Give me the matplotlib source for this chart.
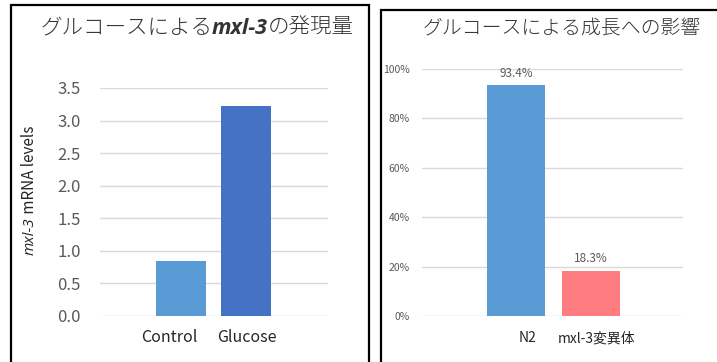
import matplotlib
matplotlib.use('Agg')
import matplotlib.pyplot as plt
from matplotlib.patches import Rectangle
from matplotlib.ticker import PercentFormatter
from matplotlib.transforms import ScaledTranslation

plt.rcParams['font.family'] = ['Noto Sans CJK JP', 'DejaVu Sans']

# expression data
expr_groups = ["Control", "Glucose"]
expr_levels = [0.85, 3.22]
expr_colors = ["#5B9BD5", "#4472C4"]
expr_ticks = [0.0, 0.5, 1.0, 1.5, 2.0, 2.5, 3.0, 3.5]

# growth data
growth_groups = ["N2", "mxl-3変異体"]
growth_rates = [0.934, 0.183]
growth_colors = ["#5B9BD5", "#FF7C80"]
growth_ticks = [0.0, 0.2, 0.4, 0.6, 0.8, 1.0]

W, H = 717, 362
fig = plt.figure(figsize=(W / 100, H / 100), dpi=100)
fig.patch.set_facecolor("white")


def px(x, y):
    return x / W, (H - y) / H


def style_axes(ax, ticks, pad):
    for s in ax.spines.values():
        s.set_visible(False)
    ax.set_yticks(ticks)
    ax.yaxis.grid(True, color="#D9D9D9", linewidth=1)
    ax.set_axisbelow(True)
    ax.tick_params(axis="both", length=0)
    ax.tick_params(axis="y", pad=pad, colors="#595959")


def nudge(labels, shifts):
    # shift category labels sideways by a few pixels
    for lab, dx in zip(labels, shifts):
        lab.set_transform(lab.get_transform() + ScaledTranslation(dx / 100, 0, fig.dpi_scale_trans))


# panel frames
fig.add_artist(Rectangle(px(11, 370), 358 / W, 365 / H, transform=fig.transFigure,
                         fill=False, edgecolor="black", linewidth=1.6, clip_on=False))
fig.add_artist(Rectangle(px(381, 370), 345 / W, 360 / H, transform=fig.transFigure,
                         fill=False, edgecolor="black", linewidth=1.6, clip_on=False))

# left: mxl-3 expression
ax1 = fig.add_axes([100 / W, (H - 316) / H, 228 / W, 228 / H])
ax1.bar(range(len(expr_groups)), expr_levels, width=0.78, color=expr_colors)
ax1.set_xlim(-1.246, 2.26)
ax1.set_ylim(0, 3.5)
style_axes(ax1, expr_ticks, 14)
ax1.set_yticklabels([f"{t:.1f}" for t in expr_ticks], fontsize=12)
ax1.set_xticks(range(len(expr_groups)))
ax1.set_xticklabels(expr_groups, fontsize=11.5, color="#262626")
ax1.tick_params(axis="x", pad=9)
nudge(ax1.get_xticklabels(), [-12, 1])

# right: growth
ax2 = fig.add_axes([422 / W, (H - 316) / H, 261 / W, 247 / H])
bars = ax2.bar(range(len(growth_groups)), growth_rates, width=0.77, color=growth_colors)
ax2.set_xlim(-1.253, 2.227)
ax2.set_ylim(0, 1.0)
style_axes(ax2, growth_ticks, 9)
ax2.yaxis.set_major_formatter(PercentFormatter(1.0, decimals=0))
for lab in ax2.get_yticklabels():
    lab.set_fontsize(7.5)
ax2.set_xticks(range(len(growth_groups)))
ax2.set_xticklabels(growth_groups, fontsize=10, color="#262626")
ax2.tick_params(axis="x", pad=11)
nudge(ax2.get_xticklabels(), [12, 6])
ax2.bar_label(bars, labels=[f"{v * 100:.1f}%" for v in growth_rates],
              padding=4, fontsize=8.5, color="#595959")

renderer = fig.canvas.get_renderer()

# left title with italic gene name
x0, y0 = px(40, 34)
parts = [("グルコースによる", {"weight": "light"}),
         ("mxl-3", {"family": ["Open Sans", "DejaVu Sans"], "style": "italic", "weight": "bold"}),
         ("の発現量", {"weight": "light"})]
for txt, kw in parts:
    t = fig.text(x0, y0, txt, fontsize=15.5, color="#333333", ha="left", va="baseline", **kw)
    x0 += t.get_window_extent(renderer).width / W

fig.text(*px(562, 34), "グルコースによる成長への影響", fontsize=14.3, color="#333333",
         ha="center", va="baseline", weight="light")

# y-axis label, rotated, with italic gene name
lx, ly = px(30, 255)
for txt, kw in [("mxl-3", {"style": "italic", "family": ["Open Sans", "DejaVu Sans"]}),
                (" mRNA levels", {})]:
    t = fig.text(lx, ly, txt, fontsize=11, color="#262626", rotation=90,
                 rotation_mode="anchor", ha="left", va="center", **kw)
    ly += t.get_window_extent(renderer).height / H

fig.savefig("out.png", dpi=100)
